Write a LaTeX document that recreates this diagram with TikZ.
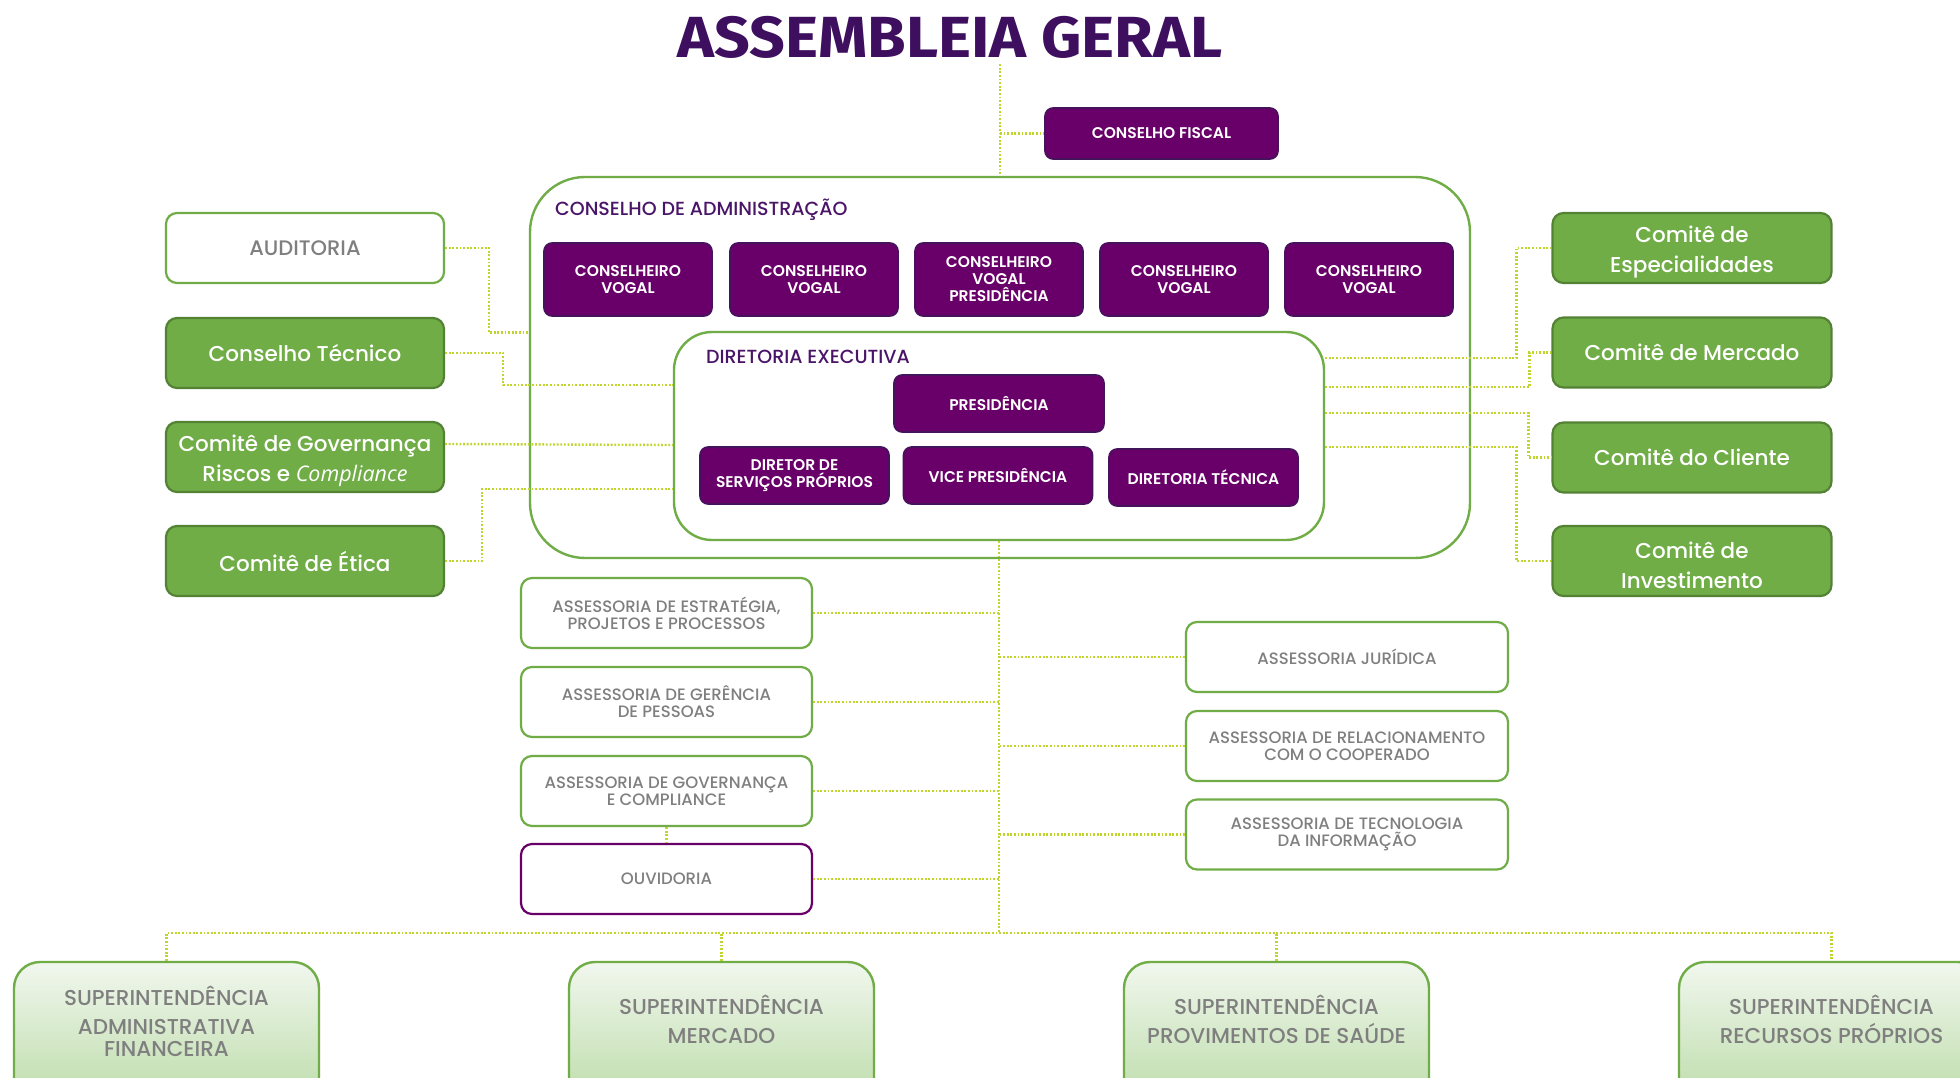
\documentclass[tikz,border=0pt]{standalone}
\usepackage{fontspec}
\setmainfont{Poppins}
\newfontfamily\popm{Poppins Medium}
\newfontfamily\popsb{Poppins SemiBold}
\newfontfamily\titlefont{Fira Sans}
\newfontfamily\itfont{Open Sans}
\usetikzlibrary{calc}
\definecolor{purp}{HTML}{690069}
\definecolor{purpb}{HTML}{45135C}
\definecolor{titlep}{HTML}{3E0F5F}
\definecolor{labp}{HTML}{4A1468}
\definecolor{gfill}{HTML}{70AD47}
\definecolor{gborder}{HTML}{548235}
\definecolor{gline}{HTML}{70AD47}
\definecolor{dotc}{HTML}{BFD52E}
\definecolor{graytxt}{HTML}{7F7F7F}
\definecolor{gtop}{HTML}{F1F7EE}
\definecolor{gbot}{HTML}{B2D79C}
\begin{document}
\begin{tikzpicture}[x=1pt,y=-1pt,
  pbox/.style={draw=purpb, line width=1.6pt, fill=purp, rounded corners=8pt, text=white, align=center, inner sep=0pt, font=\popsb\fontsize{15.5}{17}\selectfont},
  gbox/.style={draw=gborder, line width=2.2pt, fill=gfill, rounded corners=11pt, text=white, align=center, inner sep=0pt, minimum width=278pt, minimum height=70pt, font=\popm\fontsize{21.5}{30}\selectfont},
  glbl/.style={text=white, align=center, inner sep=0pt, yshift=-4pt, font=\popm\fontsize{21.5}{30}\selectfont},
  wbox/.style={draw=gline, line width=2.2pt, fill=white, rounded corners=11pt, text=graytxt, align=center, inner sep=0pt, minimum height=70pt, font=\popm\fontsize{16.5}{17}\selectfont},
  sibox/.style={draw=gline, line width=2.4pt, top color=gtop, bottom color=gbot, rounded corners=26pt, minimum width=305pt, minimum height=170pt, inner sep=0pt},
  sitext/.style={text=graytxt, align=center, inner sep=0pt, font=\popm\fontsize{21.5}{22}\selectfont},
  conn/.style={draw=dotc, line width=2.4pt, dash pattern=on 1.8pt off 1.8pt},
  grp/.style={draw=gline, line width=2.4pt, inner sep=0pt},
  grplab/.style={anchor=west, text=labp, inner sep=0pt, font=\popm\fontsize{19}{20}\selectfont}
]
\useasboundingbox (0,0) rectangle (1960,1077);
\fill[white] (0,0) rectangle (1960,1077);

% title
\node[font=\titlefont\bfseries\fontsize{58}{60}\selectfont, text=titlep, inner sep=0pt, xscale=1.08] (title) at (950,37) {ASSEMBLEIA GERAL};

% conselho de administracao
\node[grp, minimum width=940pt, minimum height=381pt, rounded corners=55pt] (ca) at (1000,367.5) {};
\node[grplab] (calab) at (555,210) {CONSELHO DE ADMINISTRAÇÃO};
\node[pbox, minimum width=168pt, minimum height=73pt] (cv1) at (628,279.5) {CONSELHEIRO\\VOGAL};
\node[pbox, minimum width=168pt, minimum height=73pt] (cv2) at (814,279.5) {CONSELHEIRO\\VOGAL};
\node[pbox, minimum width=168pt, minimum height=73pt] (cv3) at (999,279.5) {CONSELHEIRO\\VOGAL\\PRESIDÊNCIA};
\node[pbox, minimum width=168pt, minimum height=73pt] (cv4) at (1184,279.5) {CONSELHEIRO\\VOGAL};
\node[pbox, minimum width=168pt, minimum height=73pt] (cv5) at (1369,279.5) {CONSELHEIRO\\VOGAL};

% diretoria executiva
\node[grp, minimum width=650pt, minimum height=208pt, rounded corners=38pt] (de) at (999,436) {};
\node[grplab] (delab) at (706,357) {DIRETORIA EXECUTIVA};
\node[pbox, minimum width=210pt, minimum height=57pt] (pres) at (999,403.5) {PRESIDÊNCIA};
\node[pbox, minimum width=189pt, minimum height=57pt] (dsp) at (794.5,475.5) {DIRETOR DE\\SERVIÇOS PRÓPRIOS};
\node[pbox, minimum width=189pt, minimum height=57pt] (vp) at (998,475.5) {VICE PRESIDÊNCIA};
\node[pbox, minimum width=189pt, minimum height=57pt] (dt) at (1203.5,477.5) {DIRETORIA TÉCNICA};

% conselho fiscal
\node[pbox, minimum width=233pt, minimum height=51pt] (cf) at (1161.5,133.5) {CONSELHO FISCAL};
\draw[conn] ($(title.south -| ca.north)+(0,6)$) -- (ca.north);
\draw[conn] (cf.west -| ca.north) -- (cf.west);

% left committees
\node[wbox, minimum width=278pt, font=\popm\fontsize{21}{22}\selectfont] (aud) at (305,248) {AUDITORIA};
\node[gbox] (tec) at (305,353) {Conselho Técnico};
\node[gbox, label={[glbl]center:{Comitê de Governança\\Riscos e {\itfont\itshape Compliance}}}] (gov) at (305,457) {};
\node[gbox] (eti) at (305,561) {Comitê de Ética};

% right committees
\node[gbox, minimum width=279pt, label={[glbl]center:{Comitê de\\Especialidades}}] (esp) at (1692,248) {};
\node[gbox, minimum width=279pt] (mer) at (1692,352.5) {Comitê de Mercado};
\node[gbox, minimum width=279pt] (cli) at (1692,457.5) {Comitê do Cliente};
\node[gbox, minimum width=279pt, label={[glbl]center:{Comitê de\\Investimento}}] (inv) at (1692,561) {};

% left connectors
\draw[conn] (aud.east) -- ++(44,0) |- ($(ca.west)+(0,-35)$);
\draw[conn] (tec.east) -- ++(58,0) |- ($(de.west)+(0,-51)$);
\draw[conn] ($(gov.east)+(0,-13)$) -- ($(de.west)+(0,9)$);
\draw[conn] (eti.east) -- ++(37,0) |- ($(de.west)+(0,53)$);

% right connectors
\draw[conn] ($(de.east)+(0,-78)$) -| ($(esp.west)+(-35,0)$) -- (esp.west);
\draw[conn] ($(de.east)+(0,-49)$) -| ($(mer.west)+(-22,0)$) -- (mer.west);
\draw[conn] ($(de.east)+(0,-23)$) -| ($(cli.west)+(-23,0)$) -- (cli.west);
\draw[conn] ($(de.east)+(0,11)$) -| ($(inv.west)+(-35,0)$) -- (inv.west);

% assessorias
\node[wbox, minimum width=291pt] (aep) at (666.5,613) {ASSESSORIA DE ESTRATÉGIA,\\PROJETOS E PROCESSOS};
\node[wbox, minimum width=291pt] (agp) at (666.5,702) {ASSESSORIA DE GERÊNCIA\\DE PESSOAS};
\node[wbox, minimum width=291pt] (agc) at (666.5,791) {ASSESSORIA DE GOVERNANÇA\\E COMPLIANCE};
\node[wbox, minimum width=291pt, draw=purp] (ouv) at (666.5,879) {OUVIDORIA};
\node[wbox, minimum width=322pt] (ajur) at (1347,657) {ASSESSORIA JURÍDICA};
\node[wbox, minimum width=322pt] (arel) at (1347,746) {ASSESSORIA DE RELACIONAMENTO\\COM O COOPERADO};
\node[wbox, minimum width=322pt] (ati) at (1347,834.5) {ASSESSORIA DE TECNOLOGIA\\DA INFORMAÇÃO};

\coordinate (bus) at (999,933);
\draw[conn] (de.south) -- (bus);
\draw[conn] (aep.east) -- (aep.east -| bus);
\draw[conn] (agp.east) -- (agp.east -| bus);
\draw[conn] (agc.east) -- (agc.east -| bus);
\draw[conn] (ouv.east) -- (ouv.east -| bus);
\draw[conn] (agc.south) -- (ouv.north);
\draw[conn] (ajur.west) -- (ajur.west -| bus);
\draw[conn] (arel.west) -- (arel.west -| bus);
\draw[conn] (ati.west) -- (ati.west -| bus);

% superintendencias
\node[sibox] (si1) at (166.5,1047) {};
\node[sibox] (si2) at (721.5,1047) {};
\node[sibox] (si3) at (1276.5,1047) {};
\node[sibox] (si4) at (1831.5,1047) {};
\node[sitext] (si1t) at ($(si1.north)+(0,60)$) {SUPERINTENDÊNCIA\\[7pt]ADMINISTRATIVA\\FINANCEIRA};
\node[sitext] (si2t) at ($(si2.north)+(0,59)$) {SUPERINTENDÊNCIA\\[7pt]MERCADO};
\node[sitext] (si3t) at ($(si3.north)+(0,59)$) {SUPERINTENDÊNCIA\\[7pt]PROVIMENTOS DE SAÚDE};
\node[sitext] (si4t) at ($(si4.north)+(0,59)$) {SUPERINTENDÊNCIA\\[7pt]RECURSOS PRÓPRIOS};

\draw[conn] (si1.north) -- (si1.north |- bus) -- (si4.north |- bus) -- (si4.north);
\draw[conn] (si2.north) -- (si2.north |- bus);
\draw[conn] (si3.north) -- (si3.north |- bus);
\end{tikzpicture}
\end{document}
